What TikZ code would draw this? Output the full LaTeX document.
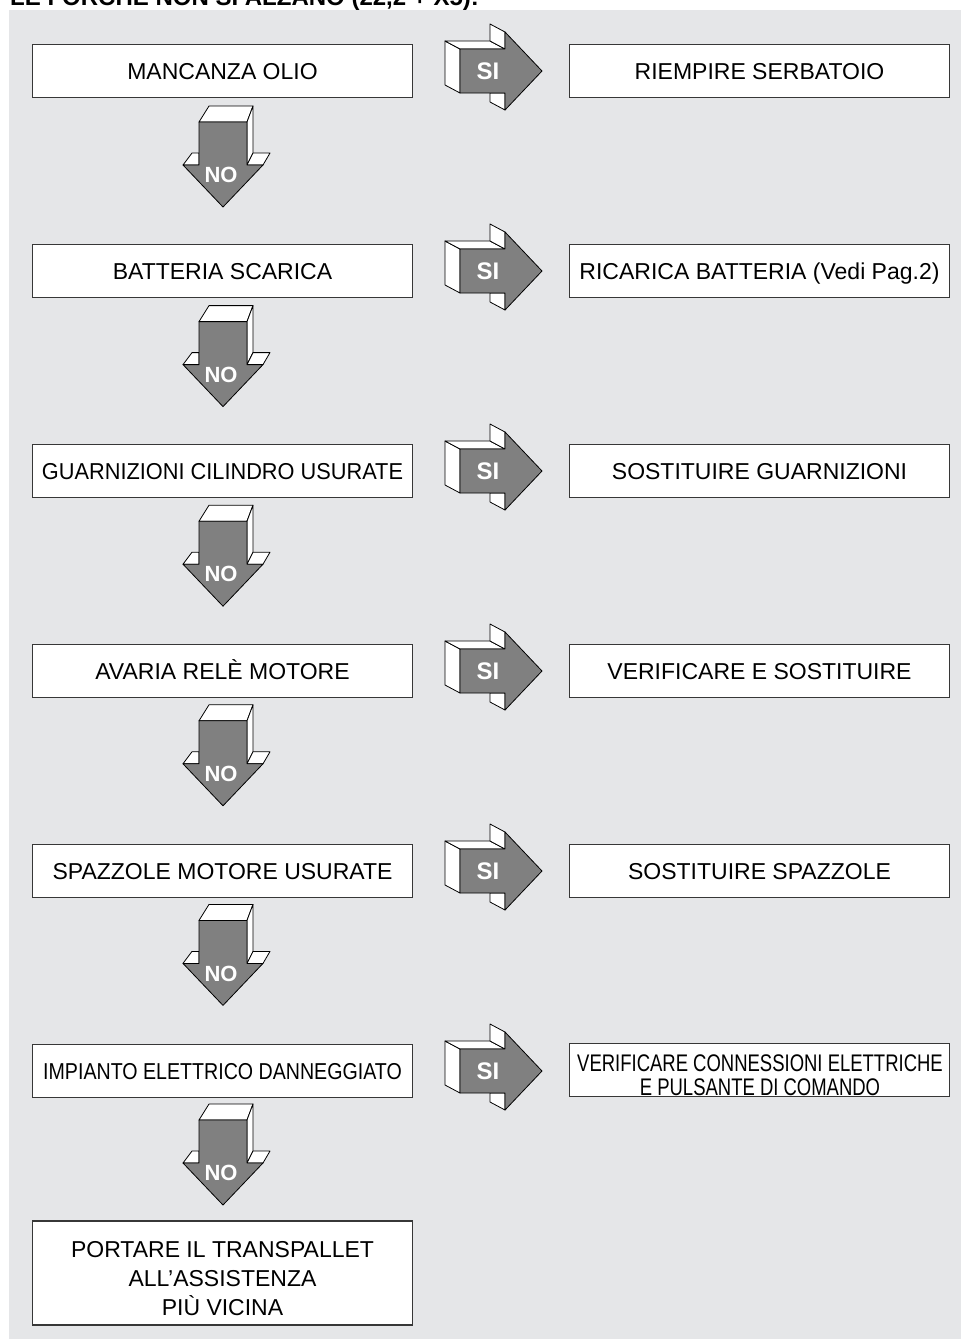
\documentclass[tikz,border=0pt]{standalone}
\usepackage{fontspec}
\setmainfont{Liberation Sans}
\usepackage{graphicx}

\definecolor{panelgray}{RGB}{229,230,232}
\definecolor{arrowgray}{RGB}{128,128,128}
\definecolor{boxline}{RGB}{55,55,55}

% horizontal squeeze for long labels
\newcommand{\hsq}[2]{\scalebox{#1}[1]{#2}}

\tikzset{
  stepbox/.style={draw=boxline, line width=1.1pt, fill=white,
    minimum width=379.5pt, minimum height=52.5pt, inner sep=0pt,
    font=\fontsize{23}{28}\selectfont, text height=16.5pt, text depth=0pt},
  plainbox/.style={draw=boxline, line width=1.1pt, fill=white,
    minimum width=379.5pt, inner sep=0pt},
  multitext/.style={align=center, inner sep=0pt, anchor=base},
  sideface/.style={fill=white, draw=black, line width=0.8pt, line join=round},
  frontface/.style={fill=arrowgray, draw=black, line width=0.8pt, line join=round},
  arrowtext/.style={text=white, font=\bfseries\fontsize{24}{24}\selectfont,
    inner sep=0pt, text height=17pt, text depth=0pt},
  siarrow/.pic={
    % left face and top of the shaft
    \path[sideface] (0,-22) -- (-15,-30) -- (-15,14) -- (0,22) -- cycle;
    \path[sideface] (-15,-30) -- (30,-30) -- (45,-22) -- (0,-22) -- cycle;
    % backs of the arrow head
    \path[sideface] (30,-47) -- (45,-39) -- (45,-22) -- (30,-30) -- cycle;
    \path[sideface] (30,22) -- (45,22) -- (45,39) -- (30,31) -- cycle;
    % front face
    \path[frontface] (0,-22) -- (45,-22) -- (45,-39) -- (82,0) -- (45,39)
      -- (45,22) -- (0,22) -- cycle;
    \node[arrowtext] (-label) at (28,0) {SI};
  },
  noarrow/.pic={
    % top and right face of the shaft
    \path[sideface] (-24,0) -- (-14,-16) -- (30,-16) -- (24,0) -- cycle;
    \path[sideface] (24,0) -- (30,-16) -- (30,31) -- (24,43) -- cycle;
    % backs of the arrow head
    \path[sideface] (24,43) -- (40,43) -- (47,31) -- (30,31) -- cycle;
    \path[sideface] (-40,43) -- (-31,31) -- (-24,31) -- (-24,43) -- cycle;
    % front face
    \path[frontface] (-24,0) -- (24,0) -- (24,43) -- (40,43) -- (0,85)
      -- (-40,43) -- (-24,43) -- cycle;
    \node[arrowtext, font=\bfseries\fontsize{22}{22}\selectfont,
      text height=15.5pt] (-label) at (-2,53) {NO};
  }
}

\begin{document}
\begin{tikzpicture}[x=1pt, y=-1pt]
  \useasboundingbox (0,0) rectangle (961,1339);
  \fill[panelgray] (9,10) rectangle (961,1339);

  % heading, mostly above the page edge
  \node[anchor=base west, inner sep=0pt,
    font=\bfseries\fontsize{24}{24}\selectfont] (title) at (10,5)
    {LE FORCHE NON SI ALZANO (22,2 + X5):};

  % checks (left column)
  \node[stepbox] (c1) at (222.5,71)   {MANCANZA OLIO};
  \node[stepbox] (c2) at (222.5,271)  {BATTERIA SCARICA};
  \node[stepbox] (c3) at (222.5,471)  {\hsq{0.946}{GUARNIZIONI CILINDRO USURATE}};
  \node[stepbox] (c4) at (222.5,671)  {AVARIA RELÈ MOTORE};
  \node[stepbox] (c5) at (222.5,871)  {SPAZZOLE MOTORE USURATE};
  \node[stepbox] (c6) at (222.5,1071) {\hsq{0.853}{IMPIANTO ELETTRICO DANNEGGIATO}};

  % remedies (right column)
  \node[stepbox] (r1) at (759.5,71)   {RIEMPIRE SERBATOIO};
  \node[stepbox] (r2) at (759.5,271)  {RICARICA BATTERIA (Vedi Pag.2)};
  \node[stepbox] (r3) at (759.5,471)  {SOSTITUIRE GUARNIZIONI};
  \node[stepbox] (r4) at (759.5,671)  {VERIFICARE E SOSTITUIRE};
  \node[stepbox] (r5) at (759.5,871)  {SOSTITUIRE SPAZZOLE};
  \node[plainbox, minimum height=53.5pt] (r6) at (759.5,1070) {};
  \node[multitext, font=\fontsize{24}{23.3}\selectfont] (r6t) at (760,1095)
    {\hsq{0.77}{VERIFICARE CONNESSIONI ELETTRICHE}\\
     \hsq{0.77}{E PULSANTE DI COMANDO}};

  % final step
  \node[plainbox, minimum height=104pt] (end) at (222.5,1273) {};
  \node[multitext, font=\fontsize{23}{28.6}\selectfont] (endt) at (222.5,1315)
    {PORTARE IL TRANSPALLET\\ ALL’ASSISTENZA\\ PIÙ VICINA};

  % yes arrows
  \foreach \i/\y in {1/71,2/271,3/471,4/671,5/871,6/1071}
    \pic (si\i) at (460,\y) {siarrow};

  % no arrows
  \foreach \i in {1,...,6}
    \pic (no\i) at (223,{122+199.6*(\i-1)}) {noarrow};
\end{tikzpicture}
\end{document}
